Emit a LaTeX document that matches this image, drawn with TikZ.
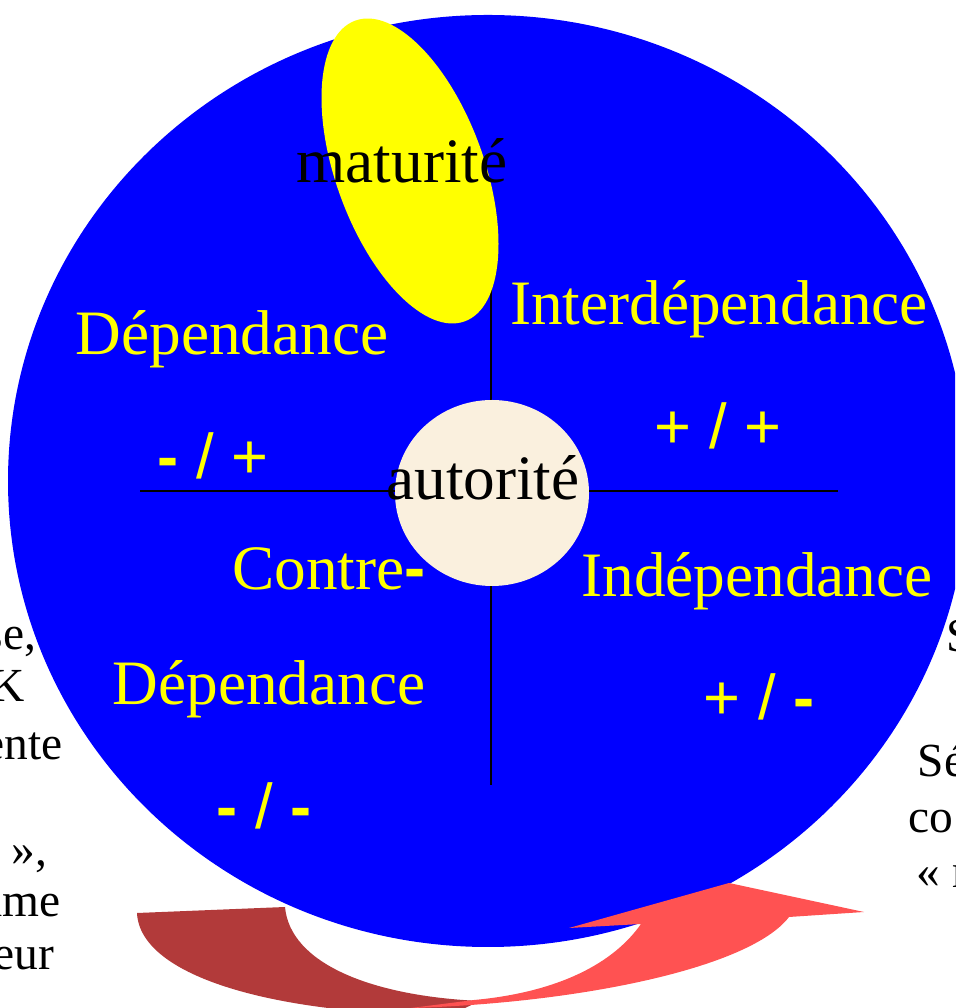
\documentclass[tikz,border=0pt]{standalone}
\usepackage{fontspec}
\setmainfont{Liberation Serif}
\newfontfamily\arialfont{Liberation Sans}
\usepackage{tikz}
\usetikzlibrary{positioning}
\definecolor{discblue}{RGB}{0,0,255}
\definecolor{matyellow}{RGB}{255,255,0}
\definecolor{authbeige}{RGB}{250,240,222}
\definecolor{arrowdark}{RGB}{178,58,58}
\definecolor{arrowlight}{RGB}{255,82,82}
\newcommand{\barminus}{{\arialfont\bfseries -}}

\begin{document}
\begin{tikzpicture}[
    quad/.style={text=matyellow, font=\fontsize{18}{21}\selectfont, inner sep=0pt, anchor=base},
    sign/.style={text=matyellow, font=\arialfont\fontsize{18}{21}\selectfont, inner sep=0pt},
    side/.style={font=\fontsize{13.5}{16}\selectfont, inner sep=0pt}]
\useasboundingbox (0,0) rectangle (9.55,10.08);
\clip (0,0) rectangle (9.55,10.08);

% disc and cross
\fill[discblue] (4.88,5.27) ellipse [x radius=4.80, y radius=4.66];
\coordinate (axisW) at (1.40,5.17);
\coordinate (axisE) at (8.38,5.17);
\coordinate (axisN) at (4.91,7.58);
\coordinate (axisS) at (4.91,2.23);
\draw[line width=0.8pt] (axisW) -- (axisE);
\draw[line width=0.8pt] (axisN) -- (axisS);

\fill[matyellow, rotate around={20:(4.10,8.37)}] (4.10,8.37) ellipse [x radius=0.74, y radius=1.60];
\fill[authbeige] (4.92,5.15) ellipse [x radius=0.97, y radius=0.93];

% labels
\node[quad, text=black] (maturity) at (4.02,8.25) {maturité};
\node[quad, text=black] (authority) at (4.83,5.08) {autorité};
\node[quad] (dep) at (2.32,6.53) {Dépendance};
\node[quad] (interdep) at (7.19,6.83) {Interdépendance};
\node[quad] (contre) at (3.29,4.18) {Contre\barminus};
\node[quad] (contredep) at (2.69,3.03) {Dépendance};
\node[quad] (indep) at (7.57,4.11) {Indépendance};

\node[sign] (depsign) at (2.13,5.52) {\barminus{} / +};
\node[sign] (interdepsign) at (7.18,5.82) {+ / +};
\node[sign] (contresign) at (2.64,2.02) {\barminus{} / \barminus};
\node[sign] (indepsign) at (7.59,3.11) {+ / \barminus};

% cycle arrow
\fill[arrowdark] (1.37,0.95) -- (2.85,1.01)
  .. controls (2.90,0.45) and (3.70,0.12) .. (4.80,0.07)
  -- (4.50,-0.07) .. controls (2.80,-0.07) and (1.40,0.30) .. (1.37,0.95) -- cycle;
\fill[arrowlight] (4.11,0.00) .. controls (5.80,0.05) and (7.50,0.40) .. (7.89,0.91)
  -- (8.64,0.96) -- (7.29,1.25) -- (5.69,0.80) -- (6.41,0.84)
  .. controls (6.10,0.40) and (5.50,0.15) .. (4.74,0.08) -- cycle;

% cut-off side text
\node[side, anchor=base east] (l1) at (0.37,3.58) {se,};
\node[side, anchor=base east] (l2) at (0.25,3.06) {K};
\node[side, anchor=base east] (l3) at (0.63,2.48) {ente};
\node[side, anchor=base east] (l4) at (0.48,1.42) {»,};
\node[side, anchor=base east] (l5) at (0.61,0.91) {ame};
\node[side, anchor=base east] (l6) at (0.55,0.38) {eur};
\node[side, anchor=base west] (r1) at (9.46,3.56) {S};
\node[side, anchor=base west] (r2) at (9.17,2.31) {Sé};
\node[side, anchor=base west] (r3) at (9.08,1.75) {co};
\node[side, anchor=base west] (r4) at (9.16,1.20) {« r};
\end{tikzpicture}
\end{document}
